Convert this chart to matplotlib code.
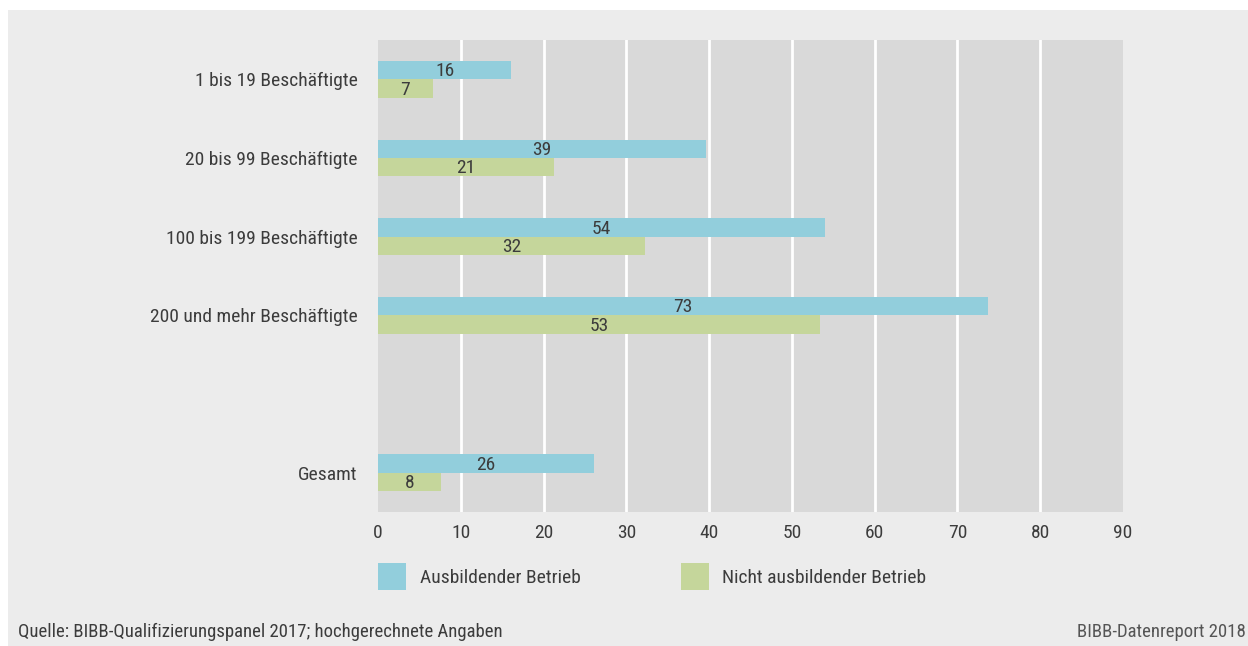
import numpy as np
import matplotlib.pyplot as plt
from matplotlib.patches import Rectangle
from matplotlib import font_manager

# data
categories = ['1 bis 19 Beschäftigte', '20 bis 99 Beschäftigte', '100 bis 199 Beschäftigte',
              '200 und mehr Beschäftigte', '', 'Gesamt']
ausbildend = [16.1, 39.6, 54.0, 73.7, None, 26.1]
nicht_ausbildend = [6.6, 21.3, 32.2, 53.4, None, 7.6]
labels_ausb = ['16', '39', '54', '73', '', '26']
labels_nicht = ['7', '21', '32', '53', '', '8']
series_names = ['Ausbildender Betrieb', 'Nicht ausbildender Betrieb']
xticks = [0, 10, 20, 30, 40, 50, 60, 70, 80, 90]

# narrow font if there is one
names = {f.name for f in font_manager.fontManager.ttflist}
fam = 'DejaVu Sans'
for cand in ['Roboto Condensed', 'Liberation Sans Narrow', 'Open Sans Condensed', 'Roboto']:
    if cand in names:
        fam = cand
        break
plt.rcParams['font.family'] = [fam, 'DejaVu Sans']

txt = '#3c3c3c'
blue = '#92cedc'
green = '#c5d69b'
fs = 14

W, H = 1248, 646
fig = plt.figure(figsize=(W / 100, H / 100), dpi=100, facecolor='white')
fig.patches.append(Rectangle((8 / W, 0), 1, 1 - 10 / H, transform=fig.transFigure,
                             facecolor='#ececec', edgecolor='none', zorder=-10))

ax = fig.add_axes([378 / W, (H - 512) / H, (1123 - 378) / W, (512 - 40) / H])
ax.set_facecolor('#d9d9d9')

y = np.arange(len(categories))
h = 0.235
for i in range(len(categories)):
    if ausbildend[i] is None:
        continue
    ax.barh(y[i] - h / 2, ausbildend[i], height=h, color=blue, zorder=3)
    ax.barh(y[i] + h / 2, nicht_ausbildend[i], height=h, color=green, zorder=3)
    ax.text(ausbildend[i] / 2, y[i] - h / 2 + 0.015, labels_ausb[i], ha='center', va='center',
            fontsize=fs, color=txt, zorder=4)
    ax.text(nicht_ausbildend[i] / 2, y[i] + h / 2 + 0.015, labels_nicht[i], ha='center', va='center',
            fontsize=fs, color=txt, zorder=4)

ax.set_xlim(0, 90)
ax.set_ylim(len(categories) - 0.5, -0.5)
ax.set_xticks(xticks)
ax.set_xticklabels([str(t) for t in xticks])
ax.set_yticks(y)
ax.set_yticklabels(categories)
ax.tick_params(axis='both', length=0, colors=txt, labelsize=fs)
ax.tick_params(axis='x', pad=9)
ax.tick_params(axis='y', pad=14.5)
for s in ax.spines.values():
    s.set_visible(False)
for t in xticks[1:-1]:
    ax.axvline(t, color='white', lw=2, zorder=1)

# legend
fig.patches.append(Rectangle((378 / W, 1 - 590 / H), 28 / W, 27 / H, transform=fig.transFigure,
                             facecolor=blue, edgecolor='none'))
fig.text(420 / W, 1 - 578 / H, series_names[0], ha='left', va='center', fontsize=fs, color=txt)
fig.patches.append(Rectangle((681 / W, 1 - 590 / H), 28 / W, 27 / H, transform=fig.transFigure,
                             facecolor=green, edgecolor='none'))
fig.text(722 / W, 1 - 578 / H, series_names[1], ha='left', va='center', fontsize=fs, color=txt)

fig.text(18 / W, 1 - 632 / H, 'Quelle: BIBB-Qualifizierungspanel 2017; hochgerechnete Angaben',
         ha='left', va='center', fontsize=13.5, color=txt)
fig.text(1246 / W, 1 - 632 / H, 'BIBB-Datenreport 2018', ha='right', va='center',
         fontsize=13.5, color='#555555')

fig.savefig('out.png', dpi=100, facecolor='white')
